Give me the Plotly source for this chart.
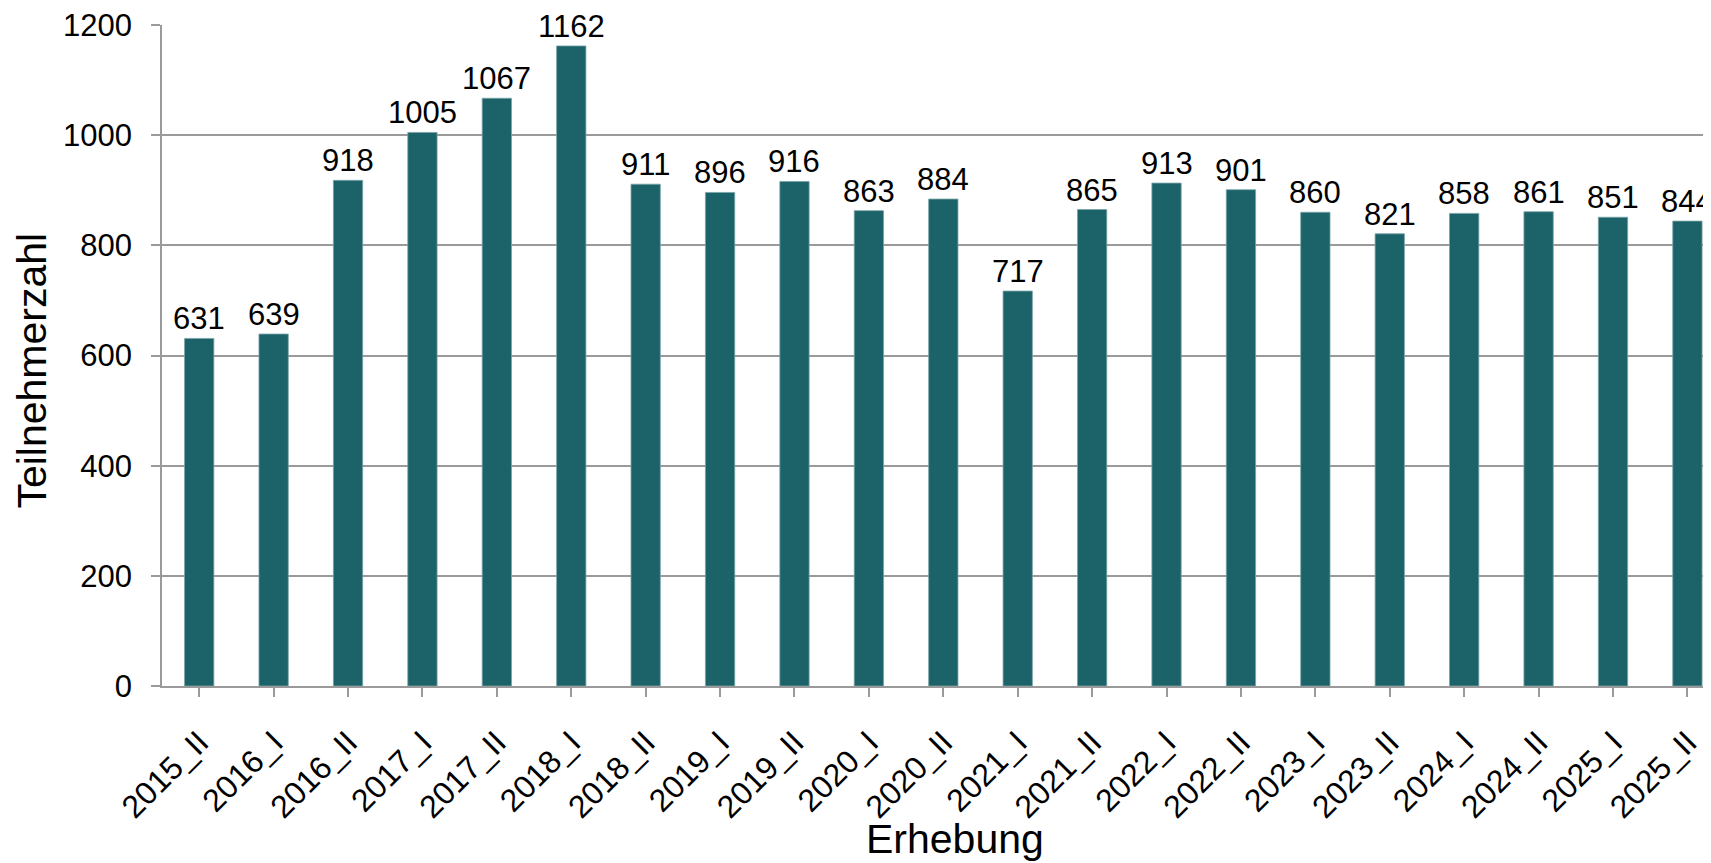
import plotly.graph_objects as go

# Teilnehmerzahl je Erhebung
erhebungen = ["2015_II", "2016_I", "2016_II", "2017_I", "2017_II", "2018_I", "2018_II",
              "2019_I", "2019_II", "2020_I", "2020_II", "2021_I", "2021_II", "2022_I",
              "2022_II", "2023_I", "2023_II", "2024_I", "2024_II", "2025_I", "2025_II"]
teilnehmer = [631, 639, 918, 1005, 1067, 1162, 911, 896, 916, 863, 884, 717, 865, 913,
              901, 860, 821, 858, 861, 851, 844]
y_ticks = [0, 200, 400, 600, 800, 1000, 1200]

FONT = "Arial, Liberation Sans, sans-serif"
BAR = "#1c6369"
GRID = "#9a9a9a"

fig = go.Figure(go.Bar(
    x=list(range(len(erhebungen))), y=teilnehmer,
    marker=dict(color=BAR, line=dict(color="#7aa5a8", width=0.8)),
))

# Werte als Beschriftung ueber den Balken (weisser Hintergrund wie im Original)
for i, v in enumerate(teilnehmer):
    fig.add_annotation(x=i, y=v, text=str(v), showarrow=False, yanchor="bottom",
                       yshift=1, bgcolor="white", borderpad=0,
                       font=dict(family=FONT, size=31, color="black"))

# axis titles as annotations, so they sit where the original puts them
fig.add_annotation(text="Erhebung", xref="paper", yref="paper", x=0.512, y=-0.231,
                   xanchor="center", yanchor="middle", showarrow=False,
                   font=dict(family=FONT, size=41, color="black"))
fig.add_annotation(text="Teilnehmerzahl", xref="paper", yref="paper", x=-0.084, y=0.477,
                   xanchor="center", yanchor="middle", textangle=-90, showarrow=False,
                   font=dict(family=FONT, size=41, color="black"))

# page body has an 8px margin; figure starts at (8, 8) and runs to the window edge
fig.update_layout(
    width=1703, height=855,
    margin=dict(l=154, r=0, t=11, b=177),
    plot_bgcolor="white", paper_bgcolor="white",
    bargap=0.606, showlegend=False,
    font=dict(family=FONT, size=30, color="black"),
)
fig.update_xaxes(
    tickmode="array", tickvals=list(range(len(erhebungen))), ticktext=erhebungen,
    range=[-0.5, 20.317], tickangle=-45, tickson="boundaries",
    ticks="outside", ticklen=9, tickwidth=1.5, tickcolor=GRID,
    showline=True, linecolor=GRID, linewidth=1.5, showgrid=False,
    tickfont=dict(size=32), ticklabelstandoff=14, ticklabeloverflow="allow",
)
fig.update_yaxes(
    range=[0, 1200], tickvals=y_ticks, ticks="outside", ticklen=9, tickwidth=1.5,
    tickcolor=GRID, showline=True, linecolor=GRID, linewidth=1.5,
    showgrid=True, gridcolor=GRID, gridwidth=1.5, zeroline=False,
    tickfont=dict(size=31), ticklabelstandoff=13, ticklabeloverflow="allow",
)

fig.write_html("out.html")
